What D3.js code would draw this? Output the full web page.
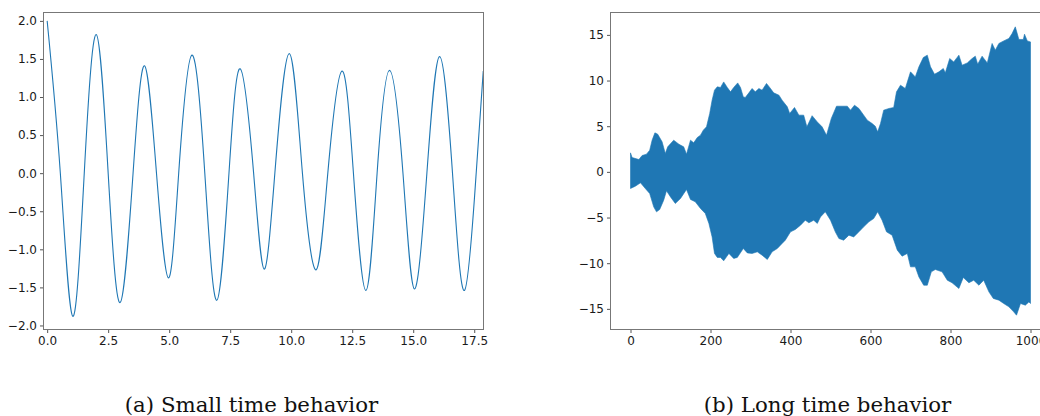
<!DOCTYPE html>
<html>
<head>
<meta charset="utf-8">
<script src="https://cdn.jsdelivr.net/npm/d3@7"></script>
<style>
  body { margin: 0; background: #fff; }
  svg { display: block; }
  .tick text { font-family: "DejaVu Sans", sans-serif; font-size: 12px; fill: #1a1a1a; }
  .tick line { stroke: #555; }
  .caption { font-family: "DejaVu Serif", serif; font-size: 21.3px; fill: #111; }
</style>
</head>
<body>
<div id="chart"></div>
<script>
// (a) small time behaviour: extrema and zero crossings
var smallT = [0, 0.54, 1.05, 1.52, 2.01, 2.50, 2.99, 3.52, 3.99, 4.48, 4.97, 5.39, 5.93, 6.46,
              6.95, 7.45, 7.91, 8.46, 8.89, 9.33, 9.92, 10.46, 11.02, 11.50, 12.08, 12.55,
              13.06, 13.52, 14.03, 14.58, 15.05, 15.56, 16.08, 16.61, 17.10, 17.58, 17.87];
var smallX = [2.0, 0, -1.88, 0, 1.82, 0, -1.70, 0, 1.41, 0, -1.375, 0, 1.55, 0,
              -1.67, 0, 1.37, 0, -1.26, 0, 1.57, 0, -1.27, 0, 1.34, 0,
              -1.54, 0, 1.35, 0, -1.52, 0, 1.53, 0, -1.54, 0, 1.34];
var smallXTicks = [0, 2.5, 5, 7.5, 10, 12.5, 15, 17.5];
var smallYTicks = [-2, -1.5, -1, -0.5, 0, 0.5, 1, 1.5, 2];

// (b) long time behaviour: the oscillation is too dense to resolve, so keep its envelope
var longTop = [[0, 2.08], [4, 1.57], [21, 1.35], [29, 1.79], [40, 1.94], [48, 2.37], [54, 3.47],
  [61, 4.27], [68, 4.13], [79, 3.29], [87, 2.01], [93, 2.74], [108, 3.47], [121, 3.03], [133, 2.74],
  [140, 1.94], [150, 3.47], [158, 3.18], [167, 3.76], [175, 4.02], [182, 4.57], [190, 4.93],
  [198, 6.39], [204, 7.85], [210, 8.95], [217, 9.31], [225, 9.24], [233, 9.85], [242, 9.24],
  [250, 8.76], [258, 9.24], [268, 9.74], [275, 9.24], [282, 8.21], [287, 8.15], [296, 8.65],
  [304, 9.13], [312, 8.76], [321, 9.13], [329, 8.95], [340, 9.68], [348, 9.24], [358, 8.65],
  [371, 8.40], [379, 7.85], [392, 7.12], [398, 6.39], [410, 7.05], [421, 6.21], [433, 6.21],
  [441, 4.93], [454, 6.15], [467, 5.47], [479, 4.93], [490, 4.02], [502, 5.85], [515, 7.19],
  [529, 7.19], [542, 7.19], [550, 6.76], [560, 7.30], [571, 6.94], [583, 6.21], [592, 5.66],
  [604, 5.30], [612, 5.00], [618, 4.38], [625, 5.30], [633, 6.76], [646, 6.94], [658, 7.05],
  [665, 8.76], [675, 9.49], [687, 9.13], [700, 10.95], [712, 10.40], [721, 11.50], [732, 12.52],
  [742, 12.78], [750, 11.50], [760, 10.70], [771, 10.95], [782, 11.32], [787, 10.84], [798, 12.41],
  [808, 12.04], [821, 12.78], [829, 11.68], [842, 11.93], [854, 12.41], [862, 12.67], [868, 11.79],
  [879, 12.67], [892, 11.93], [904, 14.06], [912, 13.33], [921, 14.06], [933, 14.34], [946, 14.61],
  [954, 15.15], [962, 15.88], [971, 14.50], [982, 14.50], [985, 15.08], [992, 14.34], [1000, 14.23]];
var longBottom = [[0, -1.82], [12, -1.57], [25, -1.20], [37, -1.82], [48, -2.37], [58, -3.83],
  [65, -4.38], [73, -4.12], [83, -3.10], [90, -2.08], [100, -2.74], [112, -3.46], [125, -2.91],
  [140, -1.93], [150, -3.02], [162, -3.28], [175, -4.01], [187, -4.55], [196, -5.65], [204, -7.12],
  [210, -8.93], [217, -9.37], [225, -9.37], [233, -9.74], [246, -8.93], [258, -9.48], [267, -9.37],
  [282, -8.39], [292, -8.87], [304, -8.93], [317, -8.76], [329, -9.12], [342, -9.59], [354, -8.76],
  [367, -8.39], [379, -7.84], [387, -7.48], [400, -6.57], [412, -6.31], [425, -5.84], [437, -5.29],
  [446, -5.58], [458, -5.29], [467, -5.65], [475, -4.93], [487, -4.38], [500, -5.29], [512, -6.57],
  [521, -7.30], [533, -7.48], [546, -6.93], [558, -7.12], [571, -6.57], [583, -6.02], [596, -5.47],
  [608, -5.11], [618, -4.38], [629, -5.29], [640, -6.57], [654, -6.93], [667, -8.57], [679, -9.23],
  [692, -8.93], [700, -10.40], [712, -10.40], [721, -11.50], [733, -12.41], [742, -12.41],
  [752, -10.95], [762, -10.69], [779, -10.95], [792, -11.86], [804, -12.15], [821, -12.77],
  [832, -11.56], [846, -12.15], [858, -11.86], [871, -12.41], [883, -11.86], [896, -13.14],
  [907, -13.86], [921, -14.05], [933, -14.41], [946, -14.78], [958, -15.33], [965, -15.69],
  [975, -14.41], [987, -14.60], [996, -14.24], [1000, -14.41]];
var longXTicks = [0, 200, 400, 600, 800, 1000];
var longYTicks = [-15, -10, -5, 0, 5, 10, 15];

var captions = ["(a) Small time behavior", "(b) Long time behavior"];

var width = 1040, height = 416;
var blue = "#1f77b4";

var svg = d3.select("#chart").append("svg")
    .attr("width", width)
    .attr("height", height);

svg.append("rect").attr("width", width).attr("height", height).attr("fill", "#fff");

//draws box, ticks and labels of one panel
function frame(x, y, xTicks, yTicks, fmt) {
    var g = svg.append("g");
    var x0 = x.range()[0], x1 = x.range()[1], y0 = y.range()[0], y1 = y.range()[1];

    var yAxis = g.append("g")
        .attr("transform", "translate(" + x0 + ",0)")
        .call(d3.axisLeft(y).tickValues(yTicks).tickFormat(fmt).tickSize(3.5).tickPadding(3));
    var xAxis = g.append("g")
        .attr("transform", "translate(0," + y0 + ")")
        .call(d3.axisBottom(x).tickValues(xTicks).tickFormat(fmt).tickSize(3.5).tickPadding(3));
    yAxis.select(".domain").remove();
    xAxis.select(".domain").remove();

    g.append("rect")
        .attr("x", x0).attr("y", y1)
        .attr("width", x1 - x0).attr("height", y0 - y1)
        .attr("fill", "none")
        .attr("stroke", "#777")
        .attr("stroke-width", 1);
}

// panel (a)
var xa = d3.scaleLinear().domain([-0.15, 17.88]).range([43.5, 483.5]);
var ya = d3.scaleLinear().domain([-2.053, 2.11]).range([329.5, 12.5]);

var line = d3.line()
    .x(function(d, i) { return xa(smallT[i]); })
    .y(function(d) { return ya(d); })
    .curve(d3.curveNatural);

svg.append("path")
    .datum(smallX)
    .attr("d", line)
    .attr("fill", "none")
    .attr("stroke", blue)
    .attr("stroke-width", 1.1);

frame(xa, ya, smallXTicks, smallYTicks, d3.format(".1f"));

// panel (b)
var xb = d3.scaleLinear().domain([-50, 1050]).range([610.5, 1050.5]);
var yb = d3.scaleLinear().domain([-17.26, 17.45]).range([329.5, 12.5]);

var band = d3.line()
    .x(function(d) { return xb(d[0]); })
    .y(function(d) { return yb(d[1]); });

svg.append("path")
    .datum(longTop.concat(longBottom.slice().reverse()))
    .attr("d", function(d) { return band(d) + "Z"; })
    .attr("fill", blue)
    .attr("stroke", blue)
    .attr("stroke-width", 0.6);

frame(xb, yb, longXTicks, longYTicks, d3.format("d"));

//captions under each panel
svg.selectAll(".caption")
    .data(captions)
    .enter().append("text")
    .attr("class", "caption")
    .attr("x", function(d, i) { return i === 0 ? 251.5 : 827.5; })
    .attr("y", 412)
    .attr("text-anchor", "middle")
    .text(function(d) { return d; });
</script>
</body>
</html>
